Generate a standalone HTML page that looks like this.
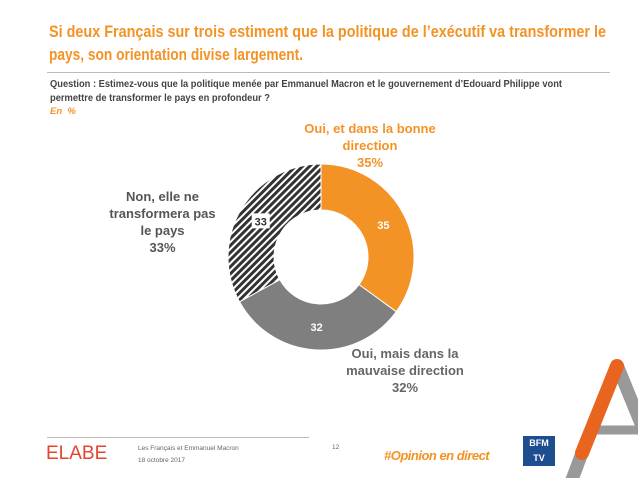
<!DOCTYPE html>
<html><head><meta charset="utf-8"><style>
body{margin:0;width:638px;height:478px;background:#fff;font-family:"Liberation Sans",sans-serif;position:relative;overflow:hidden}
.a{position:absolute}
.fit{white-space:nowrap;transform-origin:0 0;display:block}
</style></head><body>
<div class="a" style="left:49px;top:20px;color:#f39325;font-size:17px;font-weight:bold;line-height:23px">
<span class="fit" data-w="557">Si deux Français sur trois estiment que la politique de l’exécutif va transformer le</span>
<span class="fit" data-w="254">pays, son orientation divise largement.</span></div>
<div class="a" style="left:47px;top:72px;width:563px;height:1px;background:#bbb"></div>
<div class="a" style="left:50px;top:78px;color:#444;font-size:10px;font-weight:bold;line-height:14px">
<span class="fit" data-w="512">Question : Estimez-vous que la politique menée par Emmanuel Macron et le gouvernement d’Edouard Philippe vont</span>
<span class="fit" data-w="220">permettre de transformer le pays en profondeur ?</span></div>
<div class="a" style="left:50px;top:106px;color:#f39325;font-size:9.5px;font-style:italic;font-weight:bold">En&nbsp;&nbsp;%</div>
<svg class="a" style="left:0;top:0" width="638" height="478">
<defs><pattern id="h" width="5" height="5" patternUnits="userSpaceOnUse" patternTransform="rotate(45)"><rect width="5" height="5" fill="#fff"/><rect width="3" height="5" fill="#333"/></pattern></defs>
<g id="slices"></g>
</svg>
<div class="a" style="left:290px;top:120px;width:160px;text-align:center;color:#f39325;font-size:13px;font-weight:bold;line-height:17px">Oui, et dans la bonne<br>direction<br>35%</div>
<div class="a" style="left:335px;top:345px;width:140px;text-align:center;color:#666;font-size:13px;font-weight:bold;line-height:17px">Oui, mais dans la<br>mauvaise direction<br>32%</div>
<div class="a" style="left:100px;top:188px;width:125px;text-align:center;color:#555;font-size:13px;font-weight:bold;line-height:17px">Non, elle ne<br>transformera pas<br>le pays<br>33%</div>
<div class="a" style="left:47px;top:437px;width:262px;height:1px;background:#bbb"></div>
<div class="a" style="left:46px;top:443px;color:#e2452f;font-size:19px">ELABE</div>
<div class="a" style="left:138px;top:443px;color:#666;font-size:6.5px;line-height:12px">Les Français et Emmanuel Macron<br>18 octobre 2017</div>
<div class="a" style="left:332px;top:444px;color:#666;font-size:6.5px">12</div>
<div class="a" style="left:384px;top:448px;color:#f39325;font-size:13px;font-style:italic;font-weight:bold;letter-spacing:-0.5px">#Opinion en direct</div>
<div class="a" style="left:523px;top:436px;width:32px;height:30px;background:#1d4e8f;color:#fff;font-size:9px;font-weight:bold;text-align:center;line-height:15px">BFM<br>TV</div>
<svg class="a" style="left:0;top:0" width="638" height="478">
<line x1="617" y1="365" x2="660" y2="470" stroke="#999" stroke-width="13"/>
<line x1="596" y1="430" x2="638" y2="430" stroke="#999" stroke-width="9"/>
<line x1="582" y1="453" x2="570" y2="485" stroke="#999" stroke-width="13"/>
<line x1="617" y1="366" x2="582" y2="453" stroke="#e8641f" stroke-width="14" stroke-linecap="round"/>
</svg>
<script>
document.querySelectorAll('.fit').forEach(e=>{e.style.display='inline-block';const w=e.getBoundingClientRect().width;e.style.transform='scaleX('+(+e.dataset.w/w)+')';e.style.display='block';e.style.width=w+'px';});
const categories=["Oui, et dans la bonne direction","Oui, mais dans la mauvaise direction","Non, elle ne transformera pas le pays"];
const values=[35,32,33];
const fills=["#f39325","#7f7f7f","url(#h)"];
const cx=321,cy=257,R=93,r=47;
const g=document.getElementById('slices');
const tot=values.reduce((a,b)=>a+b,0);
let a0=0;
function pt(a,rad){return [cx+rad*Math.sin(a),cy-rad*Math.cos(a)];}
values.forEach((v,i)=>{
 const a1=a0+v/tot*2*Math.PI,lg=(a1-a0)>Math.PI?1:0;
 const p1=pt(a0,R),p2=pt(a1,R),p3=pt(a1,r),p4=pt(a0,r);
 const p=document.createElementNS('http://www.w3.org/2000/svg','path');
 p.setAttribute('d',`M${p1}A${R},${R} 0 ${lg} 1 ${p2}L${p3}A${r},${r} 0 ${lg} 0 ${p4}Z`);
 p.setAttribute('fill',fills[i]);p.setAttribute('stroke','#fff');p.setAttribute('stroke-width','1');
 
 
 g.appendChild(p);
 const m=(a0+a1)/2,[tx,ty]=pt(m,(R+r)/2);
 if(i==2){const b=document.createElementNS('http://www.w3.org/2000/svg','rect');b.setAttribute('x',tx-9);b.setAttribute('y',ty-8);b.setAttribute('width',18);b.setAttribute('height',15);b.setAttribute('fill','#fff');
 
 
 g.appendChild(b);}
 const t=document.createElementNS('http://www.w3.org/2000/svg','text');
 t.setAttribute('x',tx);t.setAttribute('y',ty+4);t.setAttribute('text-anchor','middle');
 t.setAttribute('font-size','11');t.setAttribute('font-weight','bold');t.setAttribute('fill',i==2?'#333':'#fff');
 t.setAttribute('font-family','Liberation Sans, sans-serif');
 t.textContent=v;
 
 
 g.appendChild(t);
 a0=a1;
});
</script>
</body></html>
